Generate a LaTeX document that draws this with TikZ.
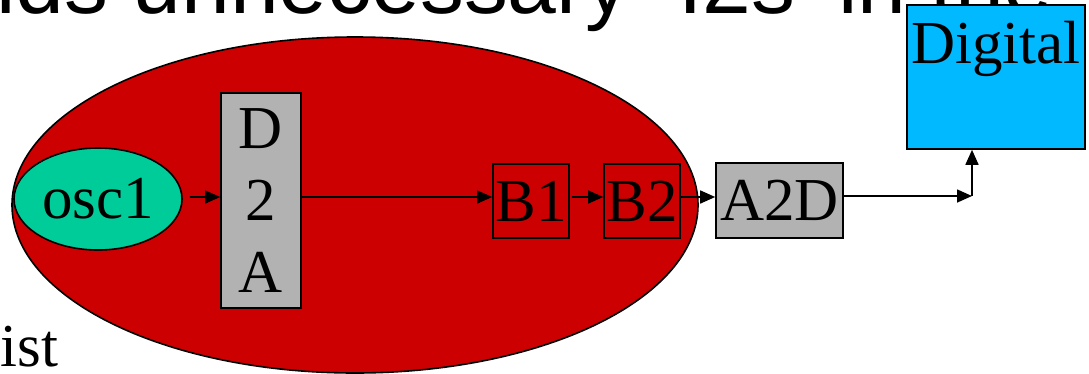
\documentclass[tikz,border=0pt]{standalone}
\usepackage{fontspec}
\setmainfont{Liberation Serif}
\newfontfamily\arialf{Liberation Sans}
\usetikzlibrary{arrows.meta,shapes.geometric}
\definecolor{ared}{RGB}{204,0,0}
\definecolor{oscg}{RGB}{0,204,153}
\definecolor{boxgray}{RGB}{178,178,178}
\definecolor{digblue}{RGB}{0,185,255}
\begin{document}
\begin{tikzpicture}[x=1bp,y=-1bp,line width=1.6bp,
  big/.style={font=\fontsize{61.2}{72.3}\selectfont},
  blk/.style={draw=black,rectangle,inner sep=0pt,big,align=center},
  arr/.style={draw=black,line width=1.6bp,-{Triangle[length=15bp,width=13bp]}}]
\useasboundingbox (0,0) rectangle (1089,373);
\clip (0,0) rectangle (1089,373);
\fill[white] (0,0) rectangle (1089,373);
% background slide text
\node[anchor=base west,inner sep=0pt,font=\arialf\fontsize{88}{100}\selectfont] (top) at (-154,13) {Avoids unnecessary\hspace{24bp} I2s\hspace{19bp} in the};
\node[anchor=base west,inner sep=0pt,big] (ist) at (0,366) {ist};
% analog region
\node[draw=black,fill=ared,ellipse,minimum width=686bp,minimum height=336bp,inner sep=0pt] (analog) at (355,205) {};
% blocks
\node[draw=black,fill=oscg,ellipse,minimum width=168bp,minimum height=102bp,inner sep=0pt,big] (osc) at (98,199) {osc1};
\node[blk,fill=boxgray,minimum width=80bp,minimum height=215bp] (d2a) at (261,200.5) {D\\2\\A};
\node[blk,fill=ared,minimum width=76bp,minimum height=74bp] (b1) at (531,201) {B1};
\node[blk,fill=ared,minimum width=76bp,minimum height=74bp] (b2) at (642,201) {B2};
\node[blk,fill=boxgray,minimum width=127bp,minimum height=75bp] (a2d) at (779.5,200.5) {A2D};
\node[draw=black,fill=digblue,rectangle,minimum width=178bp,minimum height=144bp,inner sep=0pt] (dig) at (996,77) {};
\node[anchor=base,inner sep=0pt,big] (digtxt) at (996,63) {Digital};
% connectors
\coordinate (k) at (972,196);
\draw[arr] ([shift={(7,-2)}]osc.east) -- ([yshift=3.5bp]d2a.west);
\draw[arr] ([yshift=3.5bp]d2a.east) -- ([yshift=4bp]b1.west);
\draw[arr] ([shift={(2,-4)}]b1.east) -- ([yshift=4bp]b2.west);
\draw[arr] ([yshift=4bp]b2.east) -- ([yshift=3.5bp]a2d.west);
\draw[arr] ([yshift=4.5bp]a2d.east) -- (k);
\draw[arr] (k) -- (k |- dig.south);
\end{tikzpicture}
\end{document}
